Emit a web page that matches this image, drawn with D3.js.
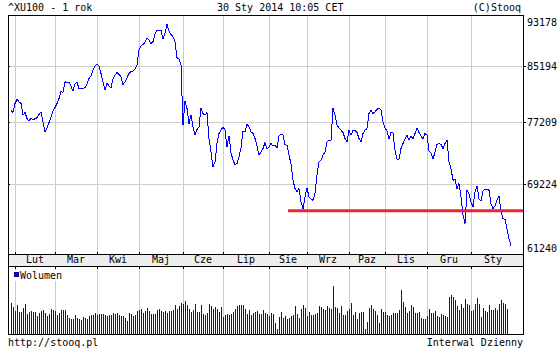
<!DOCTYPE html>
<meta charset="utf-8">
<title>XU100 - 1 rok</title>
<style>
body { margin: 0; background: #fff; }
svg { display: block; }
text { font-family: "DejaVu Sans Mono", monospace; font-size: 10px; fill: #000; }
</style>
<svg width="560" height="350"></svg>
<script src="https://d3js.org/d3.v7.min.js"></script>
<script>

// month names and the trading-day index where each month begins
var months = ["Lut", "Mar", "Kwi", "Maj", "Cze", "Lip", "Sie", "Wrz", "Paz", "Lis", "Gru", "Sty"];
var monthStart = [2, 22, 43, 64, 86, 106, 129, 148, 169, 187, 208, 230];
var lastSlot = 252;

var yTicks = [61240, 69224, 77209, 85194, 93178];

// daily close, 30 Jan 2013 .. 30 Jan 2014
var closes = [
  78840, 78520, 79770, 80330, 80000, 79770, 78150, 78520, 77690, 77330,
  77780, 77460, 77690, 77780, 78240, 78610, 77240, 75890, 76430, 77150,
  77920, 78700, 79210, 79770, 80470, 81520, 81330, 82870, 82720, 82770,
  82240, 81520, 82580, 82770, 81900, 81900, 81900, 82000, 82480, 83360,
  83750, 84590, 85230, 85430, 85230, 84090, 82870, 81660, 82630, 82290,
  82000, 83260, 83850, 84240, 83940, 83600, 82480, 82870, 83450, 84090,
  84340, 84440, 84740, 85330, 87610, 88280, 88490, 88800, 89540, 89170,
  88650, 88910, 90060, 90750, 90750, 90700, 89330, 90220, 91660, 90590,
  90060, 89690, 88910, 86440, 86240, 85330,
  76790, 80100, 79070, 77010, 78150, 76560, 75540, 76200, 76560, 79160,
  78380, 78150, 78520, 75010, 73270, 71360, 71990, 74350, 75670, 76110,
  76560, 76110, 73920, 75360, 73180, 72200, 71650, 71780, 72630, 73790,
  75980, 75890, 76880, 76560, 75890, 75670, 75010, 74050, 72840, 73270,
  73700, 74480, 73610, 73920, 74350, 74050, 74130, 73790, 75360, 75580,
  75540, 74220, 74130, 72840, 71780, 69710, 68690, 68290, 68690, 67100,
  66320, 67690, 68770, 67690, 67420, 67300, 68090, 70320, 71990, 72200,
  72840, 73270, 74570, 74740, 74790, 79070, 78150, 76790, 76430, 76110,
  75800, 75010, 74570, 76110,
  75450, 76110, 76110, 75800, 75010, 74570, 75670, 76110, 76340, 78380,
  78840, 78380, 78610, 78930, 79160, 78840, 77240, 76430, 75980, 74920,
  75800, 75800, 73480, 72330, 72330, 73700, 74350, 74920, 75450, 74790,
  75360, 74920, 75670, 76430, 75800, 75360, 74920, 75670, 75450, 73350,
  73180, 72330, 73270, 74220, 74350, 74220, 73700, 74350, 74790, 71990,
  71150, 69710, 69830, 68690, 69300, 67690, 65620, 64590, 68490, 68090,
  67100, 66510, 68290, 69020, 67490, 67180, 68370, 68610, 68610, 68490,
  66900, 66320, 66630, 67300, 67810, 65930, 65160, 65090, 64030, 62910,
  62100
];

// daily volume (relative units)
var volume = [
  237, 205, 175, 217, 167, 167, 197, 225, 150, 165,
  172, 167, 170, 135, 160, 175, 180, 160, 135, 155,
  190, 180, 175, 147, 160, 180, 180, 180, 147, 122,
  117, 115, 147, 125, 117, 105, 130, 122, 110, 140,
  147, 147, 160, 142, 150, 155, 155, 142, 137, 142,
  142, 160, 150, 160, 142, 137, 135, 125, 100, 162,
  150, 135, 147, 175, 180, 187, 160, 175, 200, 172,
  150, 150, 150, 180, 187, 175, 165, 172, 162, 172,
  172, 180, 220, 190, 210, 237, 230, 247, 217, 192,
  167, 180, 225, 167, 167, 220, 155, 142, 160, 230,
  210, 192, 205, 187, 167, 205, 130, 142, 155, 147,
  155, 167, 192, 210, 217, 217, 220, 187, 150, 185,
  142, 160, 167, 175, 150, 155, 180, 160, 155, 135,
  162, 150, 85, 35, 130,
  165, 122, 135, 115, 125, 135, 147, 210, 150, 125,
  187, 217, 197, 135, 165, 142, 142, 150, 160, 210,
  205, 187, 180, 210, 197, 187, 367, 205, 197, 160,
  210, 142, 142, 175, 187, 235, 142, 167, 112, 160,
  167, 167, 37, 92, 197, 217, 187, 175, 142, 85,
  192, 165, 165, 142, 135, 147, 160, 160, 160, 180,
  337, 240, 205, 160, 175, 217, 205, 160, 160, 165,
  125, 117, 117, 135, 187, 160, 160, 172, 135, 130,
  155, 147, 135, 130, 280, 292, 280, 255, 210, 180,
  225, 200, 262, 230, 222, 175, 180, 225, 272, 230,
  130, 197, 172, 167, 217, 180, 180, 197, 180, 230,
  255, 235, 230, 187
];

var support = 66080, supportFrom = 138.5;

var svg = d3.select("svg");
var L = 8, R = 523, T = 15, B = 254, bandB = 266, volB = 334;

var x = d3.scaleLinear().domain([0, closes.length - 1]).range([11, 511]);
var y = d3.scaleLog().domain([61240, 93178]).range([B, T]);
var yv = d3.scaleLinear().domain([0, 500]).range([volB, 268]);

function px(v) { return Math.round(v) + 0.5; }

var grid = svg.append("g").attr("stroke", "#cccccc").attr("shape-rendering", "crispEdges");

// vertical month lines in both panels
monthStart.forEach(function(m) {
  var gx = px(x(m));
  grid.append("line").attr("x1", gx).attr("x2", gx).attr("y1", T).attr("y2", B);
  grid.append("line").attr("x1", gx).attr("x2", gx).attr("y1", bandB).attr("y2", volB);
});

// horizontal lines for inner ticks
yTicks.slice(1, -1).forEach(function(t) {
  var gy = px(y(t));
  grid.append("line").attr("x1", L).attr("x2", R).attr("y1", gy).attr("y2", gy);
});

// month band
svg.append("rect")
    .attr("x", L).attr("y", B).attr("width", R - L).attr("height", bandB - B)
    .attr("fill", "#eeeeee");

var ticks = svg.append("g").attr("stroke", "#000").attr("shape-rendering", "crispEdges");
monthStart.forEach(function(m) {
  var gx = px(x(m));
  ticks.append("line").attr("x1", gx).attr("x2", gx).attr("y1", B - 2).attr("y2", B);
  ticks.append("line").attr("x1", gx).attr("x2", gx).attr("y1", bandB).attr("y2", bandB + 3);
});
yTicks.slice(1, -1).forEach(function(t) {
  var gy = px(y(t));
  ticks.append("line").attr("x1", R).attr("x2", R + 3).attr("y1", gy).attr("y2", gy);
  ticks.append("line").attr("x1", L).attr("x2", L + 2).attr("y1", gy).attr("y2", gy);
});

var slots = monthStart.concat([lastSlot]);
svg.append("g").selectAll("text")
  .data(months)
  .enter().append("text")
    .attr("x", function(d, i) { return (x(slots[i]) + x(slots[i + 1])) / 2; })
    .attr("y", bandB - 3)
    .attr("text-anchor", "middle")
    .text(function(d) { return d; });

// volume bars
svg.append("g").attr("fill", "#0000ff").attr("shape-rendering", "crispEdges")
  .selectAll("rect")
  .data(volume)
  .enter().append("rect")
    .attr("x", function(d, i) { return Math.round(x(i)); })
    .attr("y", function(d) { return Math.round(yv(d)); })
    .attr("width", 1)
    .attr("height", function(d) { return volB - Math.round(yv(d)); });

// price line
var line = d3.line()
    .x(function(d, i) { return x(i); })
    .y(function(d) { return y(d); });

svg.append("path")
    .datum(closes)
    .attr("d", line)
    .attr("fill", "none")
    .attr("stroke", "#0000ff")
    .attr("stroke-width", 1)
    .attr("shape-rendering", "crispEdges");

// support line
svg.append("line")
    .attr("x1", x(supportFrom)).attr("x2", R)
    .attr("y1", y(support)).attr("y2", y(support))
    .attr("stroke", "#e8262c").attr("stroke-width", 3);

// frames
var frame = svg.append("g").attr("stroke", "#000").attr("fill", "none").attr("shape-rendering", "crispEdges");
frame.append("line").attr("x1", L).attr("x2", R + 1).attr("y1", T + 0.5).attr("y2", T + 0.5);
frame.append("line").attr("x1", L + 0.5).attr("x2", L + 0.5).attr("y1", T).attr("y2", volB + 1);
frame.append("line").attr("x1", R + 0.5).attr("x2", R + 0.5).attr("y1", T).attr("y2", volB + 1);
frame.append("line").attr("x1", L).attr("x2", R + 1).attr("y1", B + 0.5).attr("y2", B + 0.5);
frame.append("line").attr("x1", L).attr("x2", R + 1).attr("y1", bandB + 0.5).attr("y2", bandB + 0.5);
frame.append("line").attr("x1", L).attr("x2", R + 1).attr("y1", volB + 0.5).attr("y2", volB + 0.5);

// y labels on the right
svg.append("g").selectAll("text")
  .data(yTicks)
  .enter().append("text")
    .attr("x", R + 4)
    .attr("y", function(d) { return Math.min(Math.max(y(d) + 4, T + 11), B - 2); })
    .text(function(d) { return d; });

// volume legend
svg.append("rect").attr("x", 13).attr("y", 270).attr("width", 56).attr("height", 11).attr("fill", "#fff");
svg.append("rect").attr("x", 14.5).attr("y", 272.5).attr("width", 4).attr("height", 4)
    .attr("fill", "#0000ff").attr("stroke", "#00008b");
svg.append("text").attr("x", 20).attr("y", 279).text("Wolumen");

// header and footer
svg.append("text").attr("x", 8).attr("y", 11).text("^XU100 - 1 rok");
svg.append("text").attr("x", 217).attr("y", 11).text("30 Sty 2014 10:05 CET");
svg.append("text").attr("x", 521).attr("y", 11).attr("text-anchor", "end").text("(C)Stooq");
svg.append("text").attr("x", 8).attr("y", 346).text("http://stooq.pl");
svg.append("text").attr("x", 523).attr("y", 346).attr("text-anchor", "end").text("Interwal Dzienny");

</script>
